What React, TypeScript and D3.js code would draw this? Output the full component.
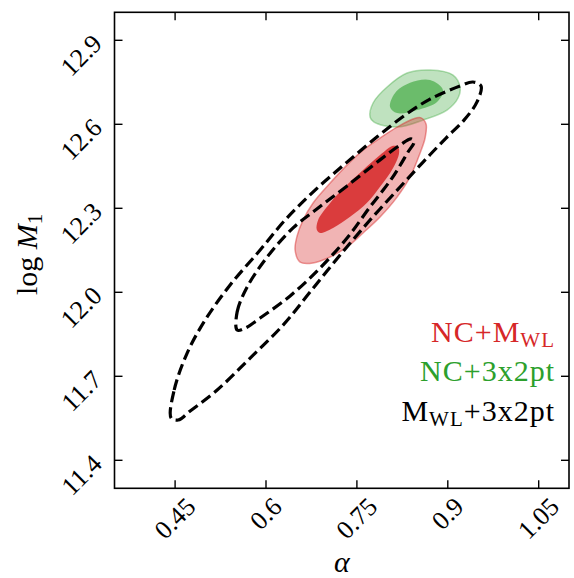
import React from "react";
import * as d3 from "d3";

// ---- data (alpha, log M1) ----
const xTicks = [0.45, 0.6, 0.75, 0.9, 1.05];
const xTickLabels = ["0.45", "0.6", "0.75", "0.9", "1.05"];
const yTicks = [11.4, 11.7, 12.0, 12.3, 12.6, 12.9];
const yTickLabels = ["11.4", "11.7", "12.0", "12.3", "12.6", "12.9"];

// NC+3x2pt contours (green)
const green95: [number, number][] = [
  [0.7717, 12.626], [0.7783, 12.608], [0.8163, 12.59], [0.8592, 12.615], [0.8987, 12.651],
  [0.9169, 12.694], [0.9202, 12.733], [0.9086, 12.776], [0.8707, 12.794], [0.8328, 12.783],
  [0.7998, 12.733], [0.7767, 12.676],
];
const green68: [number, number][] = [
  [0.8047, 12.662], [0.813, 12.712], [0.8377, 12.748], [0.8707, 12.758], [0.8921, 12.722],
  [0.8822, 12.68], [0.8493, 12.651], [0.8163, 12.64],
];

// NC+M_WL contours (red)
const red95: [number, number][] = [
  [0.648, 12.151], [0.6513, 12.201], [0.6612, 12.258], [0.6777, 12.319], [0.7058, 12.39],
  [0.7338, 12.455], [0.7602, 12.508], [0.7882, 12.551], [0.8163, 12.59], [0.8427, 12.619],
  [0.8558, 12.623], [0.8641, 12.601], [0.8625, 12.551], [0.8542, 12.497], [0.8377, 12.412],
  [0.8163, 12.34], [0.7882, 12.269], [0.7602, 12.212], [0.7338, 12.162], [0.7058, 12.126],
  [0.6777, 12.105], [0.6563, 12.108],
];
const red68: [number, number][] = [
  [0.6838, 12.223], [0.686, 12.258], [0.7058, 12.319], [0.7333, 12.383], [0.7602, 12.437],
  [0.7882, 12.49], [0.8097, 12.523], [0.8179, 12.52], [0.8196, 12.497], [0.8097, 12.444],
  [0.7882, 12.377], [0.7663, 12.319], [0.7388, 12.27], [0.7107, 12.23], [0.6893, 12.212],
];

// M_WL+3x2pt contours (black dashed)
const black95: [number, number][] = [
  [0.4435, 11.551], [0.4485, 11.651], [0.4699, 11.783], [0.4996, 11.901], [0.5408, 12.026],
  [0.5903, 12.151], [0.6315, 12.258], [0.681, 12.365], [0.7338, 12.465], [0.7849, 12.558],
  [0.8295, 12.633], [0.8707, 12.69], [0.9202, 12.737], [0.9416, 12.751], [0.9548, 12.737],
  [0.9482, 12.68], [0.9268, 12.615], [0.8971, 12.551], [0.8592, 12.465], [0.8212, 12.376],
  [0.7717, 12.258], [0.7223, 12.133], [0.6728, 12.001], [0.6282, 11.883], [0.5738, 11.765],
  [0.5194, 11.651], [0.4749, 11.576], [0.4551, 11.544],
];
const black68: [number, number][] = [
  [0.5524, 11.865], [0.5524, 11.93], [0.5689, 12.019], [0.6019, 12.126], [0.6447, 12.23],
  [0.686, 12.301], [0.7338, 12.38], [0.7882, 12.473], [0.8212, 12.526], [0.8394, 12.548],
  [0.8443, 12.537], [0.8344, 12.501], [0.808, 12.408], [0.7717, 12.305], [0.7338, 12.194],
  [0.6893, 12.087], [0.6398, 11.987], [0.5903, 11.908], [0.5656, 11.872],
];

const RED = "#d62728";
const GREEN = "#2ca02c";

const W = 574;
const H = 578;
const left = 114.5;
const right = 569;
const top = 12.3;
const bottom = 488.3;

const serif = "'Liberation Serif', 'Times New Roman', serif";

function textWidth(s: string, fs: number) {
  let w = 0;
  for (const c of s) w += c === "." ? 0.25 : 0.5;
  return w * fs;
}

export default function App() {
  const x = d3.scaleLinear().domain([0.35, 1.1]).range([left, right]);
  const y = d3.scaleLinear().domain([11.3, 13.0]).range([bottom, top]);
  const line = d3
    .line<[number, number]>()
    .x((d) => x(d[0]))
    .y((d) => y(d[1]))
    .curve(d3.curveCatmullRomClosed.alpha(0.5));

  const tickFs = 26;
  const tickLen = 8;

  return (
    <svg
      width={W}
      height={H}
      style={{ position: "absolute", left: 0, top: 0, background: "#fff" }}
      fontFamily={serif}
    >
      <rect x={0} y={0} width={W} height={H} fill="#fff" />
      {/* green */}
      <path d={line(green95) || ""} fill={GREEN} fillOpacity={0.3} stroke={GREEN} strokeOpacity={0.35} strokeWidth={1.5} />
      <path d={line(green68) || ""} fill={GREEN} fillOpacity={0.57} stroke="none" />
      {/* red */}
      <path d={line(red95) || ""} fill={RED} fillOpacity={0.35} stroke={RED} strokeOpacity={0.45} strokeWidth={1.5} />
      <path d={line(red68) || ""} fill={RED} fillOpacity={0.85} stroke="none" />
      {/* black dashed */}
      <path d={line(black95) || ""} fill="none" stroke="#000" strokeWidth={3.2} strokeDasharray="11,5" />
      <path d={line(black68) || ""} fill="none" stroke="#000" strokeWidth={3.2} strokeDasharray="11,5" />

      {/* frame */}
      <rect x={left} y={top} width={right - left} height={bottom - top} fill="none" stroke="#000" strokeWidth={1.6} />

      {/* x ticks */}
      {xTicks.map((t, i) => {
        const px = x(t);
        const lab = xTickLabels[i];
        const w = textWidth(lab, tickFs);
        const h = 0.68 * tickFs;
        const cy = 496 + 0.3535 * (w + h);
        return (
          <g key={"x" + i}>
            <line x1={px} x2={px} y1={bottom} y2={bottom - tickLen} stroke="#000" strokeWidth={1.4} />
            <line x1={px} x2={px} y1={top} y2={top + tickLen} stroke="#000" strokeWidth={1.4} />
            <text
              x={px}
              y={cy}
              fontSize={tickFs}
              textAnchor="middle"
              dominantBaseline="central"
              transform={`rotate(-45 ${px} ${cy})`}
            >
              {lab}
            </text>
          </g>
        );
      })}

      {/* y ticks */}
      {yTicks.map((t, i) => {
        const py = y(t);
        const ax = left - 11;
        const ay = py + 5;
        return (
          <g key={"y" + i}>
            <line x1={left} x2={left + tickLen} y1={py} y2={py} stroke="#000" strokeWidth={1.4} />
            <line x1={right} x2={right - tickLen} y1={py} y2={py} stroke="#000" strokeWidth={1.4} />
            <text x={ax} y={ay} fontSize={tickFs} textAnchor="end" transform={`rotate(-45 ${ax} ${ay})`}>
              {yTickLabels[i]}
            </text>
          </g>
        );
      })}

      {/* axis labels */}
      <text x={(left + right) / 2} y={572} fontSize={30} fontStyle="italic" textAnchor="middle">
        α
      </text>
      <text transform={`translate(37 ${(top + bottom) / 2 + 4}) rotate(-90)`} fontSize={30} textAnchor="middle">
        <tspan>log </tspan>
        <tspan fontStyle="italic">M</tspan>
        <tspan fontSize={21} dy={5}>1</tspan>
      </text>

      {/* legend */}
      <text x={555} y={342} fontSize={30} letterSpacing={1} textAnchor="end" fill={RED}>
        <tspan>NC+M</tspan>
        <tspan fontSize={21} dy={5}>WL</tspan>
      </text>
      <text x={555} y={381} fontSize={30} letterSpacing={1} textAnchor="end" fill={GREEN}>
        NC+3x2pt
      </text>
      <text x={555} y={421} fontSize={30} letterSpacing={1} textAnchor="end" fill="#000">
        <tspan>M</tspan>
        <tspan fontSize={21} dy={5}>WL</tspan>
        <tspan dy={-5}>+3x2pt</tspan>
      </text>
    </svg>
  );
}
